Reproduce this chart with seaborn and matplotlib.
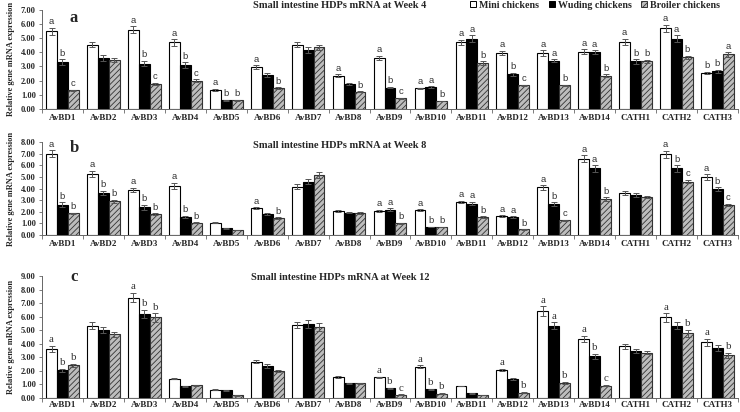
# Small intestine HDPs mRNA expression at weeks 4, 8 and 12
import pandas as pd
import matplotlib
matplotlib.use("Agg")
import matplotlib.pyplot as plt
from matplotlib.patches import Patch
import seaborn as sns

genes = ["AvBD1", "AvBD2", "AvBD3", "AvBD4", "AvBD5", "AvBD6", "AvBD7", "AvBD8",
         "AvBD9", "AvBD10", "AvBD11", "AvBD12", "AvBD13", "AvBD14",
         "CATH1", "CATH2", "CATH3"]
breeds = ["Mini chickens", "Wuding chickens", "Broiler chickens"]

# week 4
mini_4 = [5.5, 4.55, 5.6, 4.7, 1.35, 2.95, 4.55, 2.35, 3.6, 1.45, 4.7, 3.95, 3.95, 4.05, 4.75, 5.7, 2.55]
wud_4 = [3.3, 3.6, 3.2, 3.1, 0.6, 2.4, 4.15, 1.75, 1.5, 1.55, 4.95, 2.45, 3.4, 4.0, 3.35, 4.95, 2.65]
bro_4 = [1.3, 3.45, 1.75, 2.0, 0.6, 1.45, 4.35, 1.2, 0.75, 0.55, 3.25, 1.65, 1.65, 2.35, 3.35, 3.65, 3.85]
se_mini_4 = [.25, .2, .25, .22, .06, .12, .2, .08, .15, .05, .2, .15, .2, .15, .2, .25, .08]
se_wud_4 = [.2, .2, .2, .2, .03, .12, .2, .06, .06, .06, .25, .1, .1, .15, .15, .25, .12]
se_bro_4 = [.06, .15, .08, .1, .03, .06, .2, .05, .04, .03, .12, .06, .06, .08, .12, .1, .15]
let_mini_4 = ['a', '', 'a', 'a', 'a', 'a', '', 'a', 'a', 'a', 'a', 'a', 'a', 'a', 'a', 'a', 'b']
let_wud_4 = ['b', '', 'b', 'b', 'b', '', '', '', 'b', 'a', 'a', 'b', 'a', 'a', 'b', 'a', 'b']
let_bro_4 = ['c', '', 'c', 'c', 'b', 'b', '', 'b', 'c', 'b', 'b', 'c', 'b', 'b', 'b', 'b', 'a']

# week 8
mini_8 = [7.0, 5.27, 3.88, 4.25, 1.06, 2.3, 4.17, 2.04, 2.1, 2.13, 2.85, 1.64, 4.11, 6.56, 3.6, 6.94, 4.98]
wud_8 = [2.6, 3.6, 2.39, 1.58, 0.58, 1.8, 4.6, 1.93, 2.19, 0.69, 2.7, 1.55, 2.68, 5.73, 3.45, 5.73, 3.94]
bro_8 = [1.85, 2.9, 1.8, 1.06, 0.43, 1.47, 5.18, 1.9, 1.0, 0.69, 1.53, 0.49, 1.27, 3.08, 3.25, 4.6, 2.59]
se_mini_8 = [.3, .25, .2, .25, .04, .1, .2, .08, .08, .1, .1, .06, .2, .3, .15, .3, .25]
se_wud_8 = [.2, .2, .2, .08, .03, .1, .25, .08, .1, .03, .15, .06, .15, .3, .15, .3, .15]
se_bro_8 = [.08, .15, .1, .05, .03, .06, .25, .06, .05, .04, .08, .03, .06, .15, .1, .15, .1]
let_mini_8 = ['a', 'a', 'a', 'a', '', 'a', '', '', 'a', 'a', 'a', 'a', 'a', 'a', '', 'a', 'a']
let_wud_8 = ['b', 'b', 'b', 'b', '', '', '', '', 'a', 'b', 'a', 'a', 'b', 'a', '', 'b', 'b']
let_bro_8 = ['b', 'b', 'b', 'b', '', 'b', '', '', 'b', 'b', 'b', 'b', 'c', 'b', '', 'c', 'c']

# week 12
mini_12 = [3.62, 5.33, 7.41, 1.42, 0.61, 2.69, 5.38, 1.54, 1.52, 2.32, 0.88, 2.05, 6.41, 4.35, 3.81, 5.94, 4.11]
wud_12 = [2.03, 5.01, 6.19, 0.86, 0.56, 2.35, 5.45, 1.08, 0.73, 0.64, 0.34, 1.39, 5.33, 3.08, 3.47, 5.33, 3.69]
bro_12 = [2.4, 4.69, 5.94, 0.93, 0.2, 1.98, 5.23, 1.08, 0.24, 0.32, 0.22, 0.39, 1.12, 0.9, 3.33, 4.77, 3.15]
se_mini_12 = [.2, .25, .35, .05, .03, .1, .25, .06, .06, .08, .03, .08, .35, .2, .2, .3, .25]
se_wud_12 = [.12, .25, .3, .04, .03, .15, .3, .04, .04, .05, .02, .05, .25, .2, .15, .25, .2]
se_bro_12 = [.1, .2, .3, .04, .02, .08, .3, .04, .02, .04, .02, .03, .06, .05, .12, .25, .2]
let_mini_12 = ['a', '', 'a', '', '', '', '', '', 'a', 'a', '', 'a', 'a', 'a', '', 'a', 'a']
let_wud_12 = ['b', '', 'b', '', '', '', '', '', 'b', 'b', '', '', 'a', 'b', '', '', '']
let_bro_12 = ['b', '', 'b', '', '', '', '', '', 'c', 'b', '', 'b', 'b', 'c', '', 'b', 'b']

panels = [
    ("a", "Small intestine HDPs mRNA at Week 4", [mini_4, wud_4, bro_4],
     [se_mini_4, se_wud_4, se_bro_4], [let_mini_4, let_wud_4, let_bro_4], 7, "Liberation Sans", 6.8),
    ("b", "Small intestine HDPs mRNA at Week 8", [mini_8, wud_8, bro_8],
     [se_mini_8, se_wud_8, se_bro_8], [let_mini_8, let_wud_8, let_bro_8], 8, "Liberation Sans", 6.8),
    ("c", "Small intestine HDPs mRNA at Week 12", [mini_12, wud_12, bro_12],
     [se_mini_12, se_wud_12, se_bro_12], [let_mini_12, let_wud_12, let_bro_12], 9, "Liberation Serif", 7.8),
]

sns.set_style("ticks")
plt.rcParams['font.family'] = ['Liberation Serif', 'DejaVu Serif']
plt.rcParams['hatch.linewidth'] = 0.6

W, H = 740, 412
fig = plt.figure(figsize=(7.4, 4.12), dpi=100)

# pixel layout per panel: axes top, axes bottom, title y, panel letter y, tick label pad
layout = [(10, 108.7, 5, 18, 4.0), (142, 235, 146, 148, 3.5), (276, 398, 277, 277, 2.0)]
left_px, right_px = 42, 738

face = ["white", "black", "#bdbdbd"]

for (letter, title, vals, ses, lets, ymax, letfont, letsize), (top, bot, ty, ly, pad) in zip(panels, layout):
    ax = fig.add_axes([left_px / W, 1 - bot / H, (right_px - left_px) / W, (bot - top) / H])

    rows = []
    for b, v in zip(breeds, vals):
        for g, x in zip(genes, v):
            rows.append({"gene": g, "breed": b, "value": x})
    df = pd.DataFrame(rows)

    sns.barplot(data=df, x="gene", y="value", hue="breed", order=genes, hue_order=breeds,
                palette=face, errorbar=None, width=0.8, edgecolor="black",
                linewidth=0.8, legend=False, ax=ax)

    bar_groups = list(ax.containers)
    for i, cont in enumerate(bar_groups):
        for j, bar in enumerate(cont):
            if i == 2:
                bar.set_hatch("//////")
                bar.set_edgecolor("#333333")
            xc = bar.get_x() + bar.get_width() / 2
            h = bar.get_height()
            err = ses[i][j]
            ax.errorbar(xc, h, yerr=err, color="#555555", capsize=2.2,
                        elinewidth=0.7, capthick=0.7, lw=0)
            if lets[i][j]:
                ax.text(xc, h + err + ymax * 0.015, lets[i][j], ha="center", va="bottom",
                        fontsize=letsize, family=letfont, color="#333333")

    ax.set_xlim(-0.5, len(genes) - 0.5)
    ax.set_ylim(0, ymax)
    ax.set_yticks(range(0, ymax + 1))
    ax.set_yticklabels([f"{t:.2f}" for t in range(0, ymax + 1)], fontsize=6, fontweight="bold")
    ax.set_xticks(range(len(genes)))
    ax.set_xticklabels(genes, fontsize=6.5, fontweight="bold")
    ax.set_xticks([k - 0.5 for k in range(len(genes) + 1)], minor=True)
    ax.tick_params(axis="x", which="major", length=0, pad=pad)
    ax.tick_params(axis="x", which="minor", length=3, width=0.6, color="#666666")
    ax.tick_params(axis="y", length=2.5, width=0.6, color="#666666", pad=2)
    for s in ["top", "right"]:
        ax.spines[s].set_visible(False)
    for s in ["left", "bottom"]:
        ax.spines[s].set_linewidth(0.7)
        ax.spines[s].set_color("#666666")
    ax.set_xlabel("")
    ax.set_ylabel("Relative gene mRNA expression", fontsize=6, fontweight="bold", labelpad=4)

    # panel letter and title
    fig.text(74 / W, 1 - ly / H, letter, fontsize=12, fontweight="bold",
             ha="center", va="center")
    fig.text(340 / W, 1 - ty / H, title, fontsize=7.5, fontweight="bold",
             ha="center", va="center")

handles = [Patch(facecolor="white", edgecolor="black", linewidth=0.7),
           Patch(facecolor="black", edgecolor="black", linewidth=0.7),
           Patch(facecolor="#bdbdbd", edgecolor="#333333", hatch="//////", linewidth=0.7)]
fig.legend(handles, breeds, loc="center", bbox_to_anchor=(595 / W, 1 - 5 / H), ncol=3,
           frameon=False, prop={"weight": "bold", "size": 7.2}, handlelength=0.6,
           handleheight=0.6, handletextpad=0.3, columnspacing=1.0, borderpad=0)

plt.savefig("out.png", dpi=100)
